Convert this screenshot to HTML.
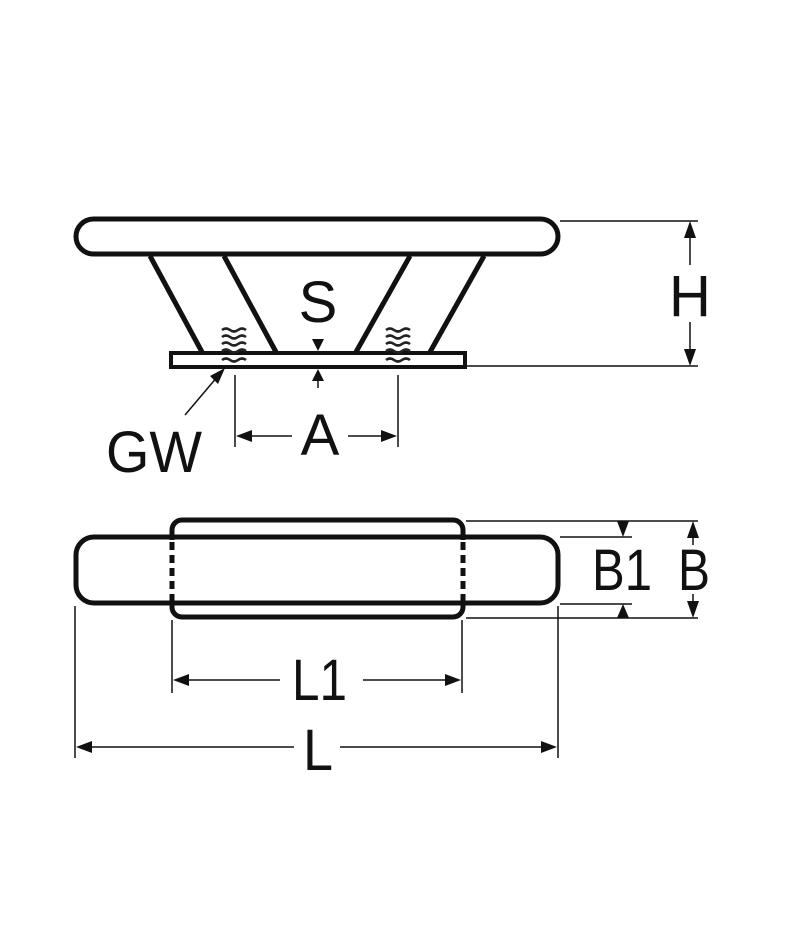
<!DOCTYPE html>
<html><head><meta charset="utf-8"><style>html,body{margin:0;padding:0;background:#fff}svg{display:block}</style></head>
<body>
<svg width="800" height="939" viewBox="0 0 800 939" xmlns="http://www.w3.org/2000/svg" font-family="Liberation Sans, sans-serif" fill="none" stroke="#111">
<!-- top view -->
<rect x="76" y="219" width="482" height="35" rx="17.5" stroke-width="5" fill="#fff"/>
<g stroke-width="5" stroke-linecap="butt">
<line x1="150" y1="256" x2="202" y2="352"/>
<line x1="224" y1="256" x2="276" y2="352"/>
<line x1="410" y1="256" x2="356" y2="352"/>
<line x1="484" y1="256" x2="430" y2="352"/>
</g>
<rect x="171" y="353" width="294" height="14" stroke-width="4" fill="#fff"/>
<g stroke-width="2.6" stroke="#222">
<path d="M222 330 q4-3 8 0 q4 3 8 0 q4-3 8 0M222 337 q4-3 8 0 q4 3 8 0 q4-3 8 0M222 344 q4-3 8 0 q4 3 8 0 q4-3 8 0M222 351 q4-3 8 0 q4 3 8 0 q4-3 8 0M222 360 q4-3 8 0 q4 3 8 0 q4-3 8 0"/>
<path d="M386 330 q4-3 8 0 q4 3 8 0 q4-3 8 0M386 337 q4-3 8 0 q4 3 8 0 q4-3 8 0M386 344 q4-3 8 0 q4 3 8 0 q4-3 8 0M386 351 q4-3 8 0 q4 3 8 0 q4-3 8 0M386 360 q4-3 8 0 q4 3 8 0 q4-3 8 0"/>
</g>
<g stroke-width="1.5">
<line x1="560" y1="221" x2="698" y2="221"/>
<line x1="467" y1="366" x2="698" y2="366"/>
<line x1="690" y1="236" x2="690" y2="265"/>
<line x1="690" y1="322" x2="690" y2="352"/>
<line x1="235" y1="375" x2="235" y2="447"/>
<line x1="398" y1="375" x2="398" y2="447"/>
<line x1="248" y1="436" x2="292" y2="436"/>
<line x1="348" y1="436" x2="386" y2="436"/>
<line x1="185" y1="415" x2="218" y2="376"/>
<line x1="318" y1="372" x2="318" y2="388"/>
</g>
<g fill="#111" stroke="none">
<polygon points="690,221 684,238 696,238"/>
<polygon points="690,366 684,349 696,349"/>
<polygon points="236,436 252,430 252,442"/>
<polygon points="397,436 381,430 381,442"/>
<polygon points="225,368 210,376 218,384"/>
<polygon points="318,351 312,339 324,339"/>
<polygon points="318,369 312,381 324,381"/>
<text x="318" y="322" font-size="58" text-anchor="middle">S</text>
<text x="320" y="455" font-size="58" text-anchor="middle">A</text>
<text x="106" y="472" font-size="58" textLength="96" lengthAdjust="spacingAndGlyphs">GW</text>
<text x="690" y="316" font-size="58" text-anchor="middle">H</text>
</g>
<!-- bottom view -->
<rect x="76" y="537" width="482" height="66" rx="18" stroke-width="5" fill="#fff"/>
<rect x="172" y="520" width="291" height="97" rx="10" stroke-width="5" fill="none"/>
<rect x="160" y="540" width="325" height="60" fill="#fff" stroke="none"/>
<line x1="172" y1="537" x2="463" y2="537" stroke-width="5"/>
<line x1="172" y1="603" x2="463" y2="603" stroke-width="5"/>
<line x1="172" y1="542" x2="172" y2="600" stroke-width="5" stroke-dasharray="8 5"/>
<line x1="463" y1="542" x2="463" y2="600" stroke-width="5" stroke-dasharray="8 5"/>
<g stroke-width="1.5">
<line x1="466" y1="521" x2="698" y2="521"/>
<line x1="560" y1="537" x2="632" y2="537"/>
<line x1="560" y1="604" x2="632" y2="604"/>
<line x1="466" y1="618" x2="698" y2="618"/>
<line x1="693" y1="535" x2="693" y2="545"/>
<line x1="693" y1="594" x2="693" y2="604"/>
<line x1="172" y1="620" x2="172" y2="693"/>
<line x1="462" y1="620" x2="462" y2="693"/>
<line x1="186" y1="680" x2="280" y2="680"/>
<line x1="363" y1="680" x2="448" y2="680"/>
<line x1="75" y1="606" x2="75" y2="758"/>
<line x1="558" y1="606" x2="558" y2="758"/>
<line x1="90" y1="747" x2="294" y2="747"/>
<line x1="340" y1="747" x2="544" y2="747"/>
</g>
<g fill="#111" stroke="none">
<polygon points="623,537 617,521 629,521"/>
<polygon points="623,604 617,618 629,618"/>
<polygon points="693,521 687,538 699,538"/>
<polygon points="693,618 687,601 699,601"/>
<polygon points="173,680 189,674 189,686"/>
<polygon points="461,680 445,674 445,686"/>
<polygon points="76,747 92,741 92,753"/>
<polygon points="557,747 541,741 541,753"/>
<text x="592" y="590" font-size="58" textLength="60" lengthAdjust="spacingAndGlyphs">B1</text>
<text x="678" y="590" font-size="58" textLength="32" lengthAdjust="spacingAndGlyphs">B</text>
<text x="292" y="700" font-size="58" textLength="55" lengthAdjust="spacingAndGlyphs">L1</text>
<text x="303" y="770" font-size="58" textLength="30" lengthAdjust="spacingAndGlyphs">L</text>
</g>
</svg>
</body></html>
